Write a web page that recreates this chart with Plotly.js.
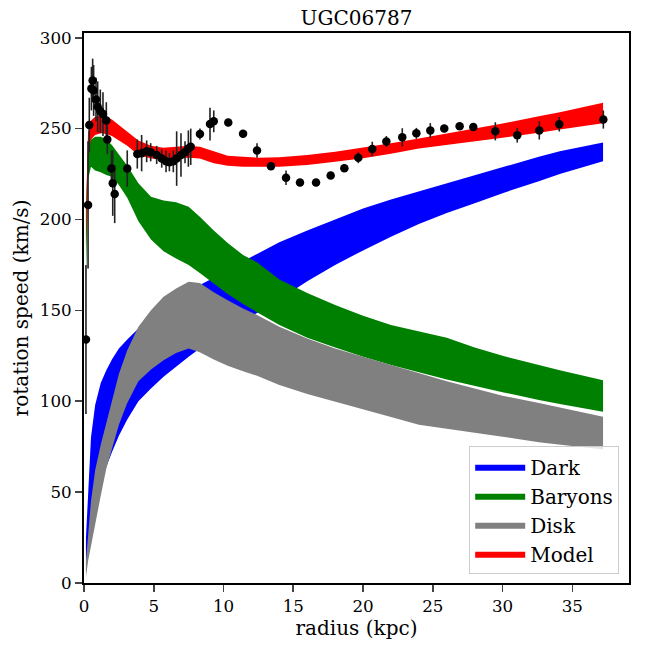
<!DOCTYPE html>
<html>
<head>
<meta charset="utf-8">
<script src="https://cdn.plot.ly/plotly-3.0.1.min.js"></script>
<style>html,body{margin:0;padding:0;background:#fff;}#chart{width:648px;height:648px;}</style>
</head>
<body>
<div id="chart"></div>
<script>
// Band radii (kpc)
var rBand = [0.14, 0.29, 0.5, 0.8, 1.2, 1.6, 2.0, 2.5, 3.1, 3.9, 4.8, 5.7, 6.6, 7.5, 8.3, 9.3, 10.3, 11.4, 12.4, 14, 16, 18, 20, 22, 24, 26, 28, 30, 32.6, 34.1, 37.2];
// Dark matter band
var darkHi = [25, 48, 80, 98, 110, 117, 123, 129, 134, 140, 146, 151, 156, 160, 164, 168, 172.5, 177, 181, 187.5, 194, 200, 206, 211, 215.5, 220, 224.5, 229, 234.5, 237.5, 242.3];
var darkLo = [6, 15, 28, 40, 53, 64, 72, 81, 90, 100, 107, 113.5, 119, 124.5, 129, 134, 139, 144, 148.5, 156, 166, 175, 183, 190.5, 197.5, 203.5, 209, 214.5, 221, 225, 232];
// Baryons band
var barHi = [205, 240, 244, 245.5, 245.5, 244, 241, 236, 229.5, 220, 212.5, 210.5, 209.5, 207, 201.5, 194, 187, 180.5, 176.5, 167, 159.5, 153, 147, 142, 138.5, 135, 129.5, 125, 120, 117, 111.6];
var barLo = [165, 222, 229, 227, 226, 224.5, 223.5, 219, 212, 199, 189, 182.5, 178.5, 175, 170.5, 164.5, 159, 153.5, 149, 142, 135, 129.5, 124.5, 120, 116, 112, 108.5, 105, 100.7, 98.5, 94.2];
// Disk band
var diskHi = [12, 25, 45, 62, 76, 88, 100, 115, 128, 141, 150, 157.5, 162, 165.7, 165, 160, 155.5, 151, 147.5, 141, 134.5, 129, 124.5, 120, 115.5, 111, 107, 103, 99, 96.5, 91.4];
var diskLo = [3, 12, 20, 33, 48, 63, 74, 87, 99, 111, 117.5, 122.5, 126.5, 129, 127, 123, 119.5, 116.5, 114, 109, 104, 100, 95.5, 91.3, 87, 84.8, 82.8, 80.5, 77.5, 76, 73.5];
// Model band
var modHi = [205, 248, 254.5, 256.5, 257.5, 256.5, 255, 252, 248.5, 243.5, 240.5, 239.5, 240, 240.5, 240, 237.5, 235, 234.5, 234, 234.3, 235.5, 237.3, 239.5, 242, 244.5, 247.2, 250, 252.8, 256.8, 259, 264.2];
var modLo = [185, 234, 244, 246.5, 247.5, 247, 246, 243.5, 240.5, 235.5, 233.5, 233, 233.5, 234, 233.5, 231, 229.5, 229, 228.8, 229, 230, 231.7, 233.7, 236.2, 239, 241, 243, 245, 247.7, 249.5, 253];

// Observed rotation curve
var rObs = [0.14, 0.29, 0.38, 0.53, 0.62, 0.69, 0.86, 0.98, 1.17, 1.36, 1.6, 1.67, 1.96, 2.06, 2.2, 3.1, 3.82, 4.13, 4.49, 4.78, 5.21, 5.57, 5.88, 6.12, 6.4, 6.64, 6.95, 7.24, 7.48, 7.65, 8.31, 9.03, 9.3, 10.34, 11.4, 12.4, 13.4, 14.48, 15.48, 16.63, 17.68, 18.66, 19.66, 20.66, 21.67, 22.81, 23.82, 24.82, 25.82, 26.92, 27.9, 29.48, 31.05, 32.63, 34.06, 37.22];
var vObs = [134, 208, 252, 272, 276.5, 271, 266, 262, 259.5, 258, 254.5, 244, 228, 220, 214, 228, 236, 236.5, 237.5, 237, 235.5, 233.5, 232, 231.5, 232, 233.5, 235.5, 237, 239, 240, 247, 252.5, 254, 253.3, 247.2, 238, 229.3, 223, 220.3, 220.3, 224.2, 228.2, 234, 238.8, 242.9, 245.2, 247.4, 249, 250, 251.3, 250.9, 248.5, 246.3, 249, 252.4, 255];
var eObs = [41, 35, 15, 12, 12, 14, 12, 14, 12, 12, 10, 8, 10, 18, 16, 10, 8, 10, 6, 5, 5, 5, 6, 5, 6, 15, 12, 6, 10, 10, 3, 9, 6, 2, 2, 4, 2, 4, 2, 2, 2, 2, 3, 4, 3, 5, 3, 4, 2, 2, 2, 5, 4, 5, 4, 5];

var xTicks = [0, 5, 10, 15, 20, 25, 30, 35];
var yTicks = [0, 50, 100, 150, 200, 250, 300];

function band(name, lo, hi, color) {
  var xs = rBand.concat(rBand.slice().reverse());
  var ys = hi.concat(lo.slice().reverse());
  return {x: xs, y: ys, type: 'scatter', mode: 'lines', fill: 'toself',
          fillcolor: color, line: {width: 0, color: color}, name: name, hoverinfo: 'skip'};
}

var traces = [
  band('Dark', darkLo, darkHi, '#0000ff'),
  band('Baryons', barLo, barHi, '#008000'),
  band('Disk', diskLo, diskHi, '#808080'),
  band('Model', modLo, modHi, '#ff0000'),
  {x: rObs, y: vObs, type: 'scatter', mode: 'markers', showlegend: false,
   marker: {color: '#000', size: 8.5},
   error_y: {type: 'data', array: eObs, visible: true, color: '#222', thickness: 1.6, width: 0}}
];

var fam = '"DejaVu Serif", "Liberation Serif", serif';
var tickFont = {family: fam, size: 16.7, color: '#000'};
var bigFont = {family: fam, size: 20, color: '#000'};
var layout = {
  width: 648, height: 648,
  margin: {l: 84, r: 19, t: 33, b: 65},
  paper_bgcolor: '#fff', plot_bgcolor: '#fff',
  font: tickFont,
  title: {text: 'UGC06787', font: bigFont, x: 0.5, xref: 'paper', xanchor: 'center', y: 0.972, yanchor: 'middle'},
  xaxis: {range: [0, 39.06], tickvals: xTicks, ticks: 'outside', ticklen: 7, tickwidth: 1.6,
          showline: true, linewidth: 2, linecolor: '#000', mirror: true, showgrid: false, zeroline: false,
          tickfont: tickFont, title: {text: 'radius (kpc)', font: bigFont, standoff: 4}},
  yaxis: {range: [0, 302.6], tickvals: yTicks, ticks: 'outside', ticklen: 7, tickwidth: 1.6,
          showline: true, linewidth: 2, linecolor: '#000', mirror: true, showgrid: false, zeroline: false,
          tickfont: tickFont, title: {text: 'rotation speed (km/s)', font: bigFont, standoff: 6}},
  legend: {x: 0.982, xanchor: 'right', y: 0.016, yanchor: 'bottom', bgcolor: 'rgba(255,255,255,0.8)',
           bordercolor: '#cccccc', borderwidth: 1, font: bigFont, itemwidth: 50, traceorder: 'normal'},
  showlegend: true
};

Plotly.newPlot('chart', traces, layout, {displayModeBar: false, staticPlot: true});
</script>
</body>
</html>
